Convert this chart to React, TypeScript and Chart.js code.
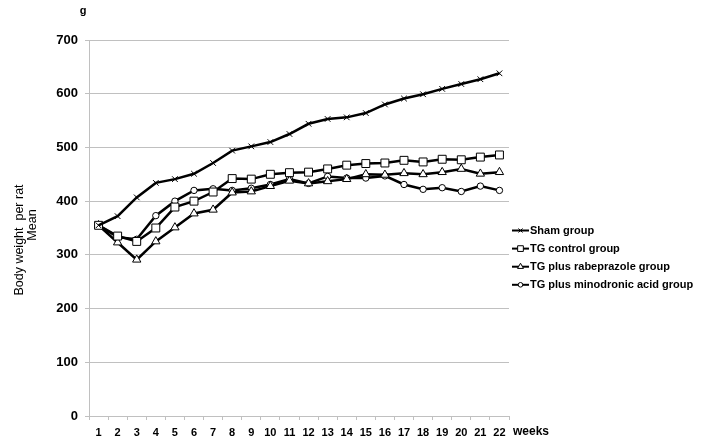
import React, { useEffect, useRef } from "react";
import { Chart, registerables } from "chart.js";

Chart.register(...registerables);

const weeks = ["1","2","3","4","5","6","7","8","9","10","11","12","13","14","15","16","17","18","19","20","21","22"];
const shamGroup = [355, 372, 407, 434, 441, 451, 471, 494, 502, 510, 525, 544, 553, 556, 564, 580, 591, 599, 609, 618, 627, 638];
const tgControl = [355, 335, 325, 350, 389, 400, 417, 442, 441, 450, 453, 454, 460, 467, 470, 471, 476, 473, 478, 477, 482, 486];
const tgRabeprazole = [355, 323, 291, 325, 351, 377, 384, 416, 418, 428, 438, 433, 437, 441, 450, 449, 452, 450, 454, 460, 451, 454];
const tgMinodronic = [355, 333, 329, 373, 400, 420, 423, 420, 424, 431, 441, 433, 446, 443, 443, 447, 431, 422, 425, 418, 428, 420];
const seriesNames = ["Sham group", "TG control group", "TG plus rabeprazole group", "TG plus minodronic acid group"];
const yMin = 0;
const yMax = 700;
const yStep = 100;
const yUnit = "g";
const yTitleLines = ["Body weight  per rat", "Mean"];
const xTitle = "weeks";

const FONT = "'Liberation Sans', Arial, sans-serif";

function drawMarker(ctx: CanvasRenderingContext2D, style: string, x: number, y: number, r: number) {
  ctx.save();
  ctx.fillStyle = "#fff";
  ctx.strokeStyle = "#000";
  ctx.lineWidth = 1;
  ctx.beginPath();
  if (style === "rect") {
    const s = Math.SQRT1_2 * r;
    ctx.rect(x - s, y - s, 2 * s, 2 * s);
    ctx.fill();
    ctx.stroke();
  } else if (style === "triangle") {
    let rad = 0;
    ctx.moveTo(x + Math.sin(rad) * r, y - Math.cos(rad) * r);
    rad += (2 * Math.PI) / 3;
    ctx.lineTo(x + Math.sin(rad) * r, y - Math.cos(rad) * r);
    rad += (2 * Math.PI) / 3;
    ctx.lineTo(x + Math.sin(rad) * r, y - Math.cos(rad) * r);
    ctx.closePath();
    ctx.fill();
    ctx.stroke();
  } else if (style === "circle") {
    ctx.arc(x, y, r, 0, Math.PI * 2);
    ctx.fill();
    ctx.stroke();
  } else {
    const o = Math.SQRT1_2 * r;
    ctx.moveTo(x - o, y - o);
    ctx.lineTo(x + o, y + o);
    ctx.moveTo(x + o, y - o);
    ctx.lineTo(x - o, y + o);
    ctx.stroke();
  }
  ctx.restore();
}

const textPlugin = {
  id: "textPlugin",
  afterDraw(chart: any) {
    const ctx: CanvasRenderingContext2D = chart.ctx;
    const area = chart.chartArea;
    ctx.save();
    ctx.fillStyle = "#000";
    // unit label
    ctx.font = `bold 11px ${FONT}`;
    ctx.textAlign = "center";
    ctx.textBaseline = "middle";
    ctx.fillText(yUnit, 83, 11);
    // y title
    ctx.font = `12.5px ${FONT}`;
    ctx.save();
    ctx.translate(20, 240);
    ctx.rotate(-Math.PI / 2);
    ctx.fillText(yTitleLines[0], 0, 0);
    ctx.restore();
    ctx.save();
    ctx.translate(33, 225);
    ctx.rotate(-Math.PI / 2);
    ctx.fillText(yTitleLines[1], 0, 0);
    ctx.restore();
    // x title
    ctx.font = `bold 12px ${FONT}`;
    ctx.textAlign = "left";
    ctx.fillText(xTitle, area.right + 4, 432);
    // legend
    ctx.font = `bold 11px ${FONT}`;
    chart.data.datasets.forEach((ds: any, i: number) => {
      const y = 230.5 + i * 18.1;
      ctx.save();
      ctx.strokeStyle = "#000";
      ctx.lineWidth = 2;
      ctx.beginPath();
      ctx.moveTo(512, y);
      ctx.lineTo(529, y);
      ctx.stroke();
      ctx.restore();
      drawMarker(ctx, ds.pointStyle, 520.5, y, ds.pointRadius * 0.72);
      ctx.fillStyle = "#000";
      ctx.textAlign = "left";
      ctx.textBaseline = "middle";
      ctx.fillText(ds.label, 530, y + 0.5);
    });
    ctx.restore();
  },
};

export default function App() {
  const ref = useRef<HTMLCanvasElement>(null);
  useEffect(() => {
    const canvas = ref.current;
    if (!canvas) return;
    const mk = (label: string, data: number[], style: string, radius: number) => ({
      label,
      data,
      borderColor: "#000",
      backgroundColor: "#fff",
      borderWidth: 2.5,
      pointStyle: style,
      pointRadius: radius,
      pointBorderWidth: 1,
      pointBorderColor: "#000",
      pointBackgroundColor: "#fff",
      tension: 0,
      fill: false,
    });
    const chart = new Chart(canvas, {
      type: "line",
      data: {
        labels: weeks,
        datasets: [
          mk(seriesNames[0], shamGroup, "crossRot", 4),
          mk(seriesNames[1], tgControl, "rect", 5.6),
          mk(seriesNames[2], tgRabeprazole, "triangle", 4.8),
          mk(seriesNames[3], tgMinodronic, "circle", 3.2),
        ],
      },
      options: {
        responsive: false,
        animation: false,
        layout: { padding: { top: 40, right: 199, left: 0, bottom: 0 } },
        plugins: { legend: { display: false }, tooltip: { enabled: false } },
        scales: {
          x: {
            type: "category",
            offset: true,
            grid: { offset: true, drawOnChartArea: false, drawTicks: true, tickLength: 4, color: "#c0c0c0" },
            border: { color: "#c0c0c0", width: 1 },
            ticks: { color: "#000", font: { family: FONT, size: 11, weight: "bold" }, padding: 6, maxRotation: 0, autoSkip: false },
            afterFit: (s: any) => { s.height = 30; },
          },
          y: {
            min: yMin,
            max: yMax,
            ticks: { stepSize: yStep, color: "#000", font: { family: FONT, size: 13, weight: "bold" }, padding: 7 },
            grid: { color: "#c0c0c0", tickLength: 4, lineWidth: 1 },
            border: { color: "#c0c0c0", width: 1 },
            afterFit: (s: any) => { s.width = 89; },
          },
        },
      } as any,
      plugins: [textPlugin],
    });
    return () => chart.destroy();
  }, []);
  return (
    <div style={{ position: "fixed", left: 0, top: 0, width: 708, height: 446, background: "#fff" }}>
      <canvas ref={ref} width={708} height={446} style={{ display: "block", width: 708, height: 446 }} />
    </div>
  );
}
